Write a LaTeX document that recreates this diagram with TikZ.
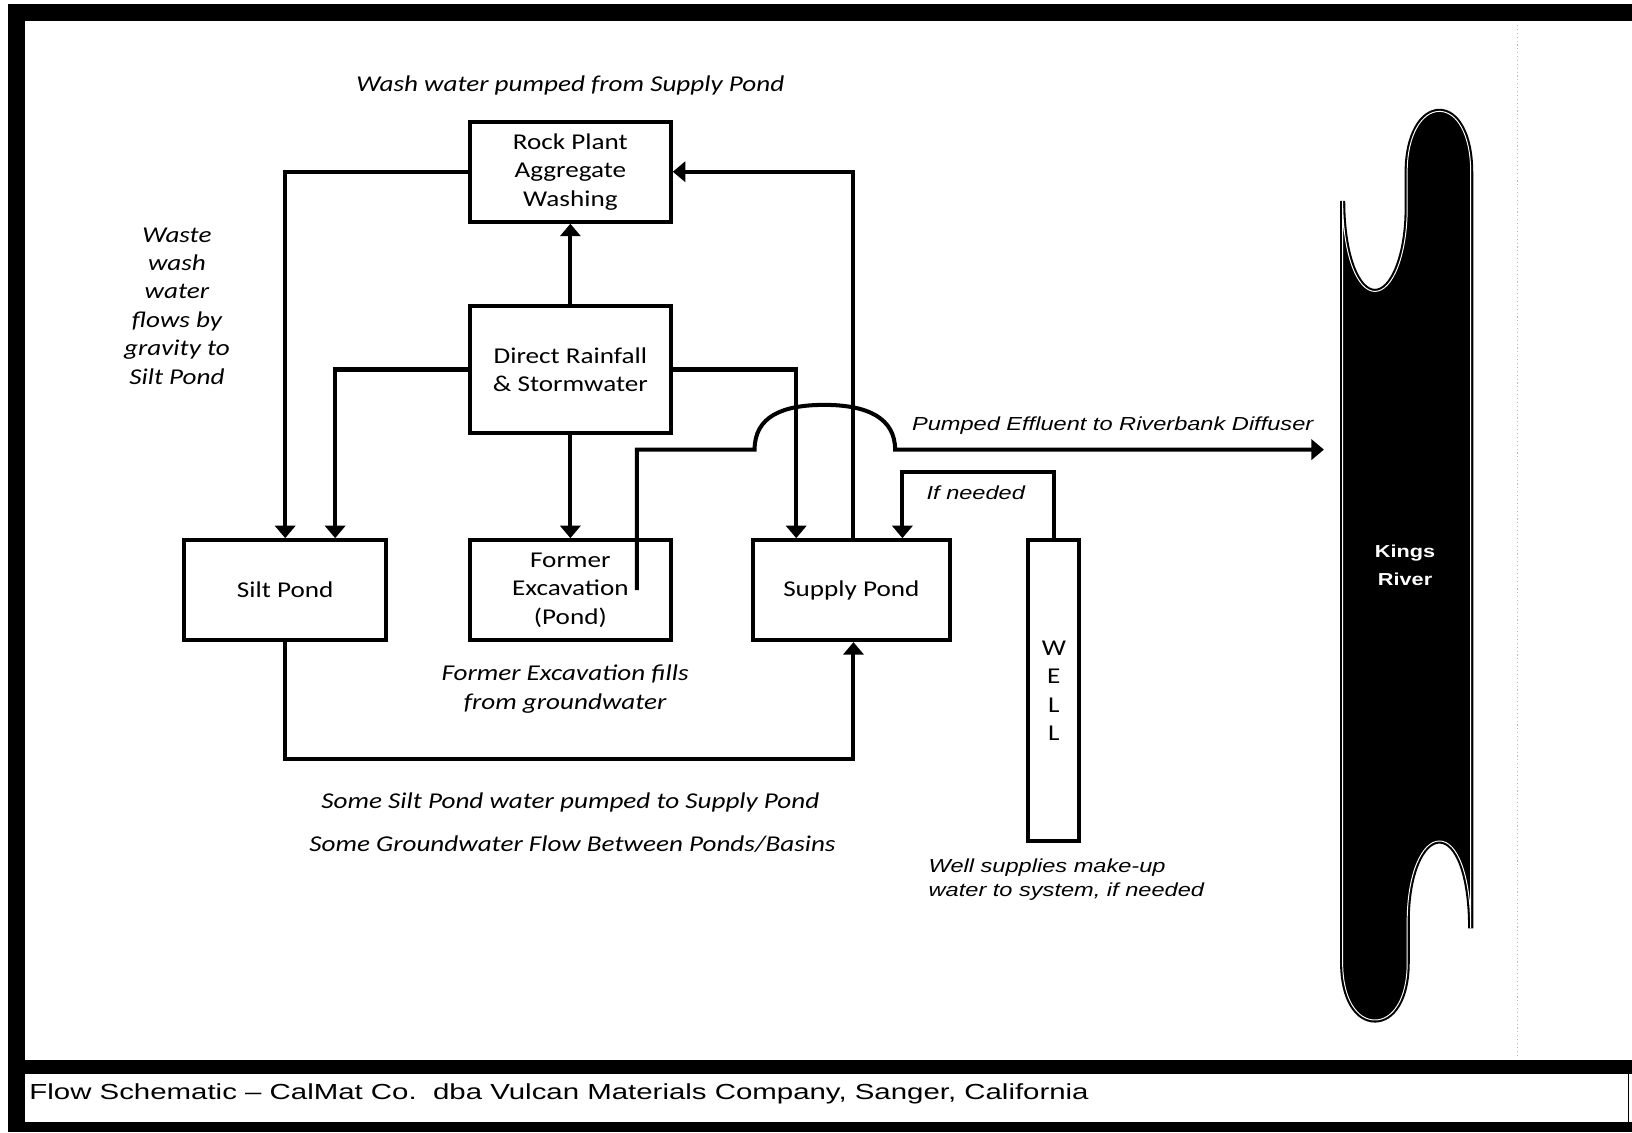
\documentclass[tikz,border=0pt]{standalone}
\usepackage{fontspec}
\usetikzlibrary{arrows.meta}
\newfontfamily\calibri[FakeStretch=1.2]{Carlito}
\newfontfamily\arial[FakeStretch=1.25]{Liberation Sans}
\newfontfamily\capfont[FakeStretch=1.35]{Liberation Sans}

\begin{document}
\begin{tikzpicture}[x=0.75pt,y=0.75pt,yscale=-1,xscale=1,
  box/.style={draw,line width=2.9pt,inner sep=0pt,align=center,font=\calibri\fontsize{16.3}{20.5}\selectfont},
  flow/.style={line width=2.9pt,-{Triangle[width=14.5pt,length=9pt]}},
  pipe/.style={line width=2.9pt},
  note/.style={inner sep=0pt,align=center,font=\calibri\itshape\fontsize{16.3}{20.5}\selectfont},
  armnote/.style={inner sep=0pt,align=left,font=\arial\itshape\fontsize{13.6}{17.25}\selectfont}]
\useasboundingbox (0,0) rectangle (1568,1088);

%Frame
\fill (8,4) rectangle (1568,20) ;
\fill (8,4) rectangle (24,1088) ;
\fill (8,1018) rectangle (1568,1032) ;
\fill (8,1078) rectangle (1568,1088) ;
\draw [line width=0.8pt] (1565,1032) -- (1565,1078) ;
\draw [gray!50, dotted, line width=0.8pt] (1458,24) -- (1458,1014) ;

%Boxes
\node [box, minimum width=144.75pt, minimum height=72pt] (rock) at (548,165) {Rock Plant\\Aggregate\\Washing};
\node [box, minimum width=144.75pt, minimum height=91.5pt] (rain) at (548,355) {Direct Rainfall\\\& Stormwater};
\node [box, minimum width=145.5pt, minimum height=72pt] (silt) at (274,567) {Silt Pond};
\node [box, minimum width=144.75pt, minimum height=72pt] (former) at (548,567) {Former\\Excavation\\(Pond)};
\node [box, minimum width=142.5pt, minimum height=72pt] (supply) at (818,567) {Supply Pond};
\node [box, minimum width=36.75pt, minimum height=216.75pt] (well) at (1012.5,663.5) {W\\E\\L\\L};

%Kings River
\filldraw [fill=black, draw=black, double=white, double distance=0.7pt, line width=1.5pt]
  (1352,165) .. controls (1352,130) and (1366,107) .. (1383,107) .. controls (1400,107) and (1413,130) .. (1413,165)
  -- (1413,892) .. controls (1413,840) and (1400,808) .. (1383,808) .. controls (1366,808) and (1352,840) .. (1352,885)
  -- (1352,925) .. controls (1352,960) and (1338,980) .. (1321,980) .. controls (1304,980) and (1290,960) .. (1290,925)
  -- (1290,193) .. controls (1290,245) and (1304,280) .. (1321,280) .. controls (1338,280) and (1352,245) .. (1352,200)
  -- cycle ;
\node [text=white, align=center, inner sep=0pt, font=\arial\bfseries\fontsize{12.5}{20.5}\selectfont] (kings) at (1350,543) {Kings\\River};

%Named points
\coordinate (effout) at (612,567) ;
\coordinate (jumpL) at (725,432) ;
\coordinate (jumpR) at (860,432) ;
\coordinate (outfall) at (1272,432) ;

%Connectors
\draw [flow] (rock.west) -| (silt.north) ;
\draw [flow] (rain) -- (rock) ;
\draw [flow] (rain.west) -| ([xshift=36pt]silt.north) ;
\draw [flow] (rain.east) -| ([xshift=-39.75pt]supply.north) ;
\draw [flow] (rain) -- (former) ;
\draw [flow] ([xshift=1.5pt]supply.north) |- (rock.east) ;
\draw [flow] (silt.south) -- ++(0,112) -| ([xshift=1.5pt]supply.south) ;
\draw [flow] (well.north) -- ++(0,-64) -| ([xshift=36.75pt]supply.north) ;
\draw [pipe, -{Triangle[width=14.5pt,length=9pt]}] (effout) -- (effout |- jumpL) -- (jumpL)
  .. controls (725,400) and (752,389) .. (792,389) .. controls (834,389) and (860,402) .. (jumpR) -- (outfall) ;

%Labels
\node [note] (washlbl) at (548,82) {Wash water pumped from Supply Pond};
\node [note] (wastelbl) at (170,294) {Waste\\wash\\water\\flows by\\gravity to\\Silt Pond};
\node [note] (filllbl) at (543,662) {Former Excavation fills\\from groundwater};
\node [note] (pumplbl) at (548,771) {Some Silt Pond water pumped to Supply Pond};
\node [note] (gwlbl) at (550,811) {Some Groundwater Flow Between Ponds/Basins};
\node [armnote, anchor=west] (efflbl) at (876,409) {Pumped Effluent to Riverbank Diffuser};
\node [armnote, anchor=west] (needlbl) at (890,473) {If needed};
\node [armnote, anchor=west] (welllbl) at (892,845) {Well supplies make-up\\water to system, if needed};

%Caption
\node [anchor=west, inner sep=0pt, font=\capfont\fontsize{15.7}{18}\selectfont] (caption) at (28,1051) {Flow Schematic – CalMat Co.\ \ dba Vulcan Materials Company, Sanger, California};

\end{tikzpicture}
\end{document}
